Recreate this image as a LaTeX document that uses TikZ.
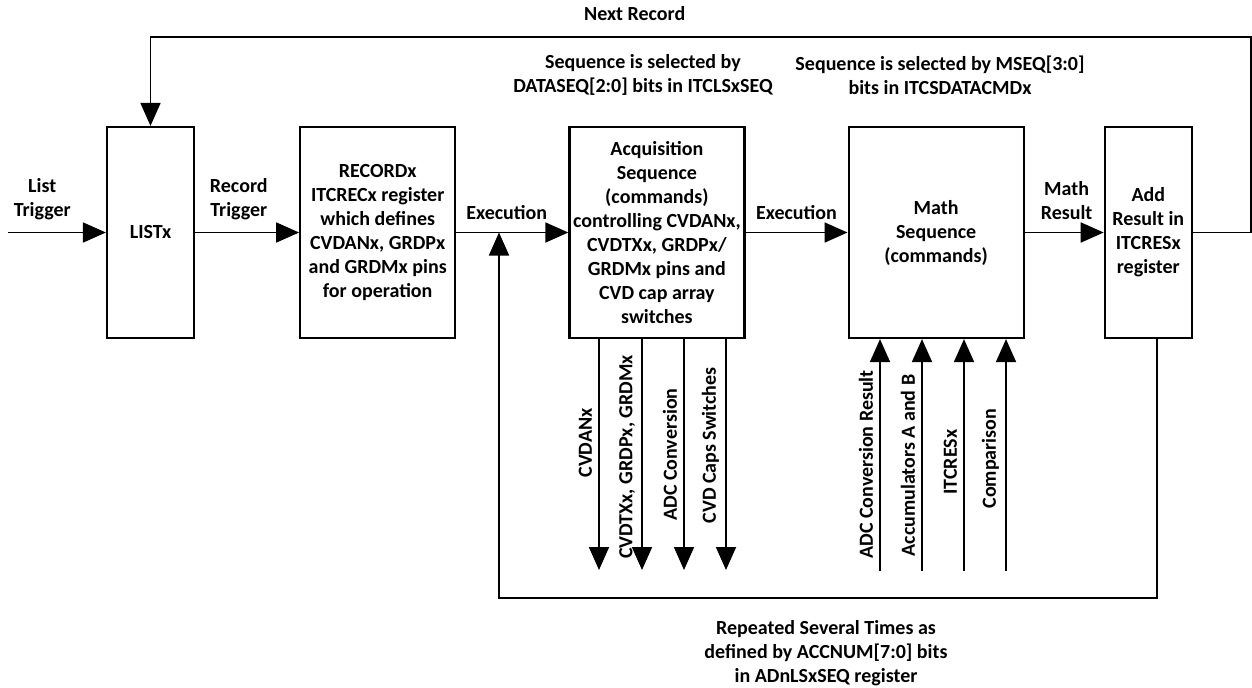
\documentclass[tikz,border=0pt]{standalone}
\usepackage{fontspec}
\setmainfont{Carlito}
\usetikzlibrary{positioning, arrows.meta}

\begin{document}
\begin{tikzpicture}[x=0.5pt, y=-0.5pt,
		font=\bfseries\fontsize{10}{12}\selectfont,
		blk/.style={draw, line width=1.1pt, minimum height=105.5pt, align=center, inner sep=1pt},
		flow/.style={line width=0.9pt, -{Triangle[length=11.5pt, width=10pt]}},
		note/.style={align=center, inner sep=2pt},
		sig/.style={rotate=90, anchor=south, inner sep=3pt}]
			\useasboundingbox (0,0) rectangle (1252,687);

			% main chain
			\node (listx) [blk, minimum width=43.5pt] at (150.5,232.5) {LISTx};
			\node (record) [blk, minimum width=77.5pt, right=52pt of listx] {RECORDx\\ITCRECx register\\which defines\\CVDANx, GRDPx\\and GRDMx pins\\for operation};
			\node (acq) [blk, minimum width=87.5pt, right=56pt of record] {Acquisition\\Sequence\\(commands)\\controlling CVDANx,\\CVDTXx, GRDPx/\\GRDMx pins and\\CVD cap array\\switches};
			\node (math) [blk, minimum width=87.5pt, right=51pt of acq] {Math\\Sequence\\(commands)};
			\node (addres) [blk, minimum width=43.5pt, right=39.5pt of math] {Add\\Result in\\ITCRESx\\register};

			% captions
			\node (seqacq) [note] at (643,75) {Sequence is selected by\\DATASEQ[2:0] bits in ITCLSxSEQ};
			\node (seqmath) [note] at (940,75) {Sequence is selected by MSEQ[3:0]\\bits in ITCSDATACMDx};
			\node (repeat) [note] at (826,653) {Repeated Several Times as\\defined by ACCNUM[7:0] bits\\in ADnLSxSEQ register};

			\coordinate (lin) at (8,232.5);
			\coordinate (outR) at (1251,232.5);
			\coordinate (topR) at (1251,37);
			\coordinate (execjoin) at (499,232.5);
			\coordinate (loopL) at (499,598);

			\draw[flow] (lin) -- node[note, above=4pt, pos=0.35] {List\\Trigger} (listx);
			\draw[flow] (listx) -- node[note, above=4pt, pos=0.42] {Record\\Trigger} (record);
			\draw[flow] (record) -- node[note, above=4pt, pos=0.45] {Execution} (acq);
			\draw[flow] (acq) -- node[note, above=4pt] {Execution} (math);
			\draw[flow] (math) -- node[note, above=4pt, pos=0.53] {Math\\Result} (addres);

			% next record loop
			\draw[flow] (addres) -- (outR) -- (topR) -| node[note, above=5.5pt, pos=0.28] {Next Record} (listx);
			% accumulation loop
			\draw[flow] ([xshift=4.25pt]addres.south) |- (loopL) -- (execjoin);

			% signals out of the acquisition sequence
			\foreach \x/\p/\txt [count=\i] in {599/0.45/CVDANx, 642/0.51/{CVDTXx, GRDPx, GRDMx}, 684/0.5/ADC Conversion, 726/0.46/CVD Caps Switches} {
				\coordinate (dn\i) at (\x,570);
				\draw[flow] (acq.south -| dn\i) -- node[sig, pos=\p] {\txt} (dn\i);
			}
			% inputs of the math sequence
			\foreach \x/\p/\txt [count=\i] in {880/0.46/ADC Conversion Result, 922/0.455/Accumulators A and B, 964/0.47/ITCRESx, 1006/0.485/Comparison} {
				\coordinate (up\i) at (\x,571);
				\draw[flow] (up\i) -- node[sig, pos=\p] {\txt} (math.south -| up\i);
			}
		\end{tikzpicture}
\end{document}
